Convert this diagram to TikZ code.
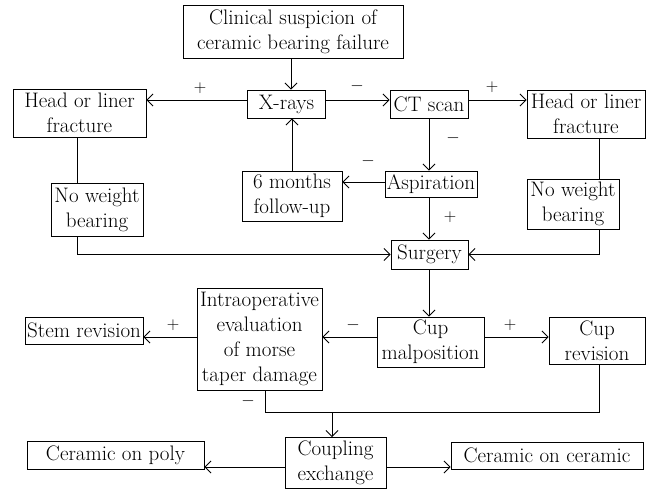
\documentclass[tikz,border=0pt]{standalone}
\usetikzlibrary{arrows.meta}
\begin{document}
\begin{tikzpicture}[x=1pt,y=-1pt,
  box/.style={draw, line width=0.9pt, inner sep=0pt, align=center, font=\fontsize{21}{25}\selectfont},
  arr/.style={line width=0.9pt, -{Straight Barb[length=6pt,width=12pt]}},
  ln/.style={line width=0.9pt},
  lbl/.style={font=\fontsize{19}{19}\selectfont, inner sep=0pt}]
\useasboundingbox (0,0) rectangle (653,490);
% nodes
\node[box, minimum width=220pt, minimum height=53pt] (clin) at (293,31.5) {Clinical suspicion of\\ceramic bearing failure};
\node[box, minimum width=78pt, minimum height=28pt] (xray) at (286.5,104) {X-rays};
\node[box, minimum width=78pt, minimum height=28pt] (ct) at (429,104) {CT scan};
\node[box, minimum width=133pt, minimum height=48pt] (hl) at (79.5,113) {Head or liner\\fracture};
\node[box, minimum width=118pt, minimum height=48pt] (hr) at (586,114) {Head or liner\\fracture};
\node[box, minimum width=92pt, minimum height=53pt] (nwl) at (97,209.5) {No weight\\bearing};
\node[box, minimum width=92pt, minimum height=50pt] (nwr) at (573,204) {No weight\\bearing};
\node[box, minimum width=100pt, minimum height=50pt] (six) at (292,196) {6 months\\follow-up};
\node[box, minimum width=92pt, minimum height=26pt] (asp) at (431,184) {Aspiration};
\node[box, minimum width=77pt, minimum height=29pt] (surg) at (429.5,254.5) {Surgery};
\node[box, minimum width=107pt, minimum height=50pt] (cup) at (430.5,342) {Cup\\malposition};
\node[box, minimum width=96pt, minimum height=47pt] (crev) at (597,340.5) {Cup\\revision};
\node[box, minimum width=125pt, minimum height=102pt] (intra) at (259.5,339) {Intraoperative\\evaluation\\of morse\\taper damage};
\node[box, minimum width=118pt, minimum height=27pt] (stem) at (84,330.5) {Stem revision};
\node[box, minimum width=101pt, minimum height=51pt] (coup) at (335.5,463) {Coupling\\exchange};
\node[box, minimum width=177pt, minimum height=28pt] (cop) at (115.5,455) {Ceramic on poly};
\node[box, minimum width=192pt, minimum height=27pt] (coc) at (547,455.5) {Ceramic on ceramic};
% helper coordinates
\coordinate (lx) at (77,0);
\coordinate (rx) at (599,0);
\coordinate (j) at (332,412);
\coordinate (ix) at (265,0);
% connectors
\draw[arr] ([xshift=-2pt]clin.south) -- ([xshift=-2pt]clin.south |- xray.north);
\draw[arr] ([yshift=4pt]xray.west) -- ([yshift=4pt]xray.west -| hl.east);
\draw[arr] ([yshift=4pt]xray.east) -- ([yshift=4pt]xray.east -| ct.west);
\draw[arr] ([yshift=4pt]ct.east) -- ([yshift=4pt]ct.east -| hr.west);
\draw[arr] (ct.south) -- (ct.south |- asp.north);
\draw[arr] ([yshift=2pt]asp.west) -- ([yshift=2pt]asp.west -| six.east);
\draw[arr] (six.north) -- (six.north |- xray.south);
\draw[arr] (asp.south -| ct.south) -- (surg.north -| ct.south);
\draw[ln] (hl.south -| lx) -- (nwl.north -| lx);
\draw[arr] (nwl.south -| lx) |- (surg.west);
\draw[ln] (hr.south -| rx) -- (nwr.north -| rx);
\draw[arr] (nwr.south -| rx) |- (surg.east);
\draw[arr] (surg.south -| ct.south) -- (cup.north -| ct.south);
\draw[arr] ([yshift=5pt]cup.west) -- ([yshift=5pt]cup.west -| intra.east);
\draw[arr] ([yshift=5pt]cup.east) -- ([yshift=5pt]cup.east -| crev.west);
\draw[arr] ([yshift=2pt]intra.west) -- ([yshift=2pt]intra.west -| stem.east);
\draw[ln] (intra.south -| ix) -- (ix |- j) -- (rx |- j) -- (crev.south -| rx);
\draw[arr] (j) -- (j |- coup.north);
\draw[arr] ([yshift=-4pt]coup.west) -- ([yshift=-4pt]coup.west -| cop.east);
\draw[arr] ([yshift=-4pt]coup.east) -- ([yshift=-4pt]coup.east -| coc.west);
% labels
\node[lbl] (l1) at (200,88) {$+$};
\node[lbl] (l2) at (357,86) {$-$};
\node[lbl] (l3) at (492,87) {$+$};
\node[lbl] (l4) at (453,138) {$-$};
\node[lbl] (l5) at (368,161) {$-$};
\node[lbl] (l6) at (450,217) {$+$};
\node[lbl] (l7) at (353,325) {$-$};
\node[lbl] (l8) at (510,325) {$+$};
\node[lbl] (l9) at (173,325) {$+$};
\node[lbl] (l10) at (248,401) {$-$};
\end{tikzpicture}
\end{document}
